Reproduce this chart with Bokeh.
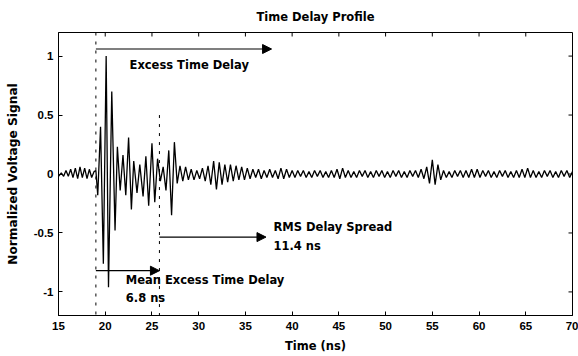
import math
from bokeh.plotting import figure
from bokeh.models import (Arrow, NormalHead, Label, FixedTicker,
                          CustomJSTickFormatter, Range1d)
from bokeh.embed import file_html
from bokeh.resources import INLINE

# ---- data ----
TIME_NS = [15.0, 15.3, 15.55, 15.8, 16.05, 16.3, 16.55, 16.8, 17.05, 17.3, 17.55, 17.8,
           18.05, 18.3, 18.55, 18.8, 19.0,
           19.2, 19.5, 19.8, 20.1, 20.35, 20.7, 21.05, 21.3, 21.6, 21.9, 22.2, 22.5,
           22.8, 23.05, 23.4, 23.7, 24.05, 24.35, 24.65, 25.0, 25.3, 25.6, 25.9, 26.2,
           26.5, 26.8, 27.1, 27.4, 27.7, 28.0, 28.3, 28.6,
           28.9, 29.2, 29.5, 29.8, 30.1, 30.4, 30.7, 31.0, 31.3, 31.6, 31.9, 32.2,
           32.5, 32.8, 33.1, 33.4, 33.7, 34.0, 34.3, 34.6, 34.9, 35.2, 35.5, 35.8,
           36.1, 36.4, 36.7, 37.0, 37.3, 37.6, 37.9, 38.2, 38.5, 38.8, 39.1, 39.4,
           39.7, 40.0, 40.3, 40.6, 40.9, 41.2, 41.5, 41.8, 42.1, 42.4, 42.7, 43.0,
           43.3, 43.6, 43.9, 44.2, 44.5, 44.8, 45.1, 45.4, 45.7, 46.0, 46.3, 46.6,
           46.9, 47.2, 47.5, 47.8, 48.1, 48.4, 48.7, 49.0, 49.3, 49.6, 49.9, 50.2,
           50.5, 50.8, 51.1, 51.4, 51.7, 52.0, 52.3, 52.6, 52.9, 53.2, 53.5, 53.8,
           54.1, 54.4, 54.7, 55.0, 55.3, 55.6, 55.9, 56.2, 56.5, 56.8, 57.1, 57.4,
           57.7, 58.0, 58.3, 58.6, 58.9, 59.2, 59.5, 59.8, 60.1, 60.4, 60.7, 61.0,
           61.3, 61.6, 61.9, 62.2, 62.5, 62.8, 63.1, 63.4, 63.7, 64.0, 64.3, 64.6,
           64.9, 65.2, 65.5, 65.8, 66.1, 66.4, 66.7, 67.0, 67.3, 67.6, 67.9, 68.2,
           68.5, 68.8, 69.1, 69.4, 69.7, 70.0]
VOLTAGE = [-0.02, 0.01, -0.02, 0.03, -0.02, 0.04, -0.03, 0.05, -0.04, 0.06, -0.03, 0.05,
           -0.04, 0.04, -0.03, 0.02, 0.03,
           -0.18, 0.40, -0.76, 1.00, -0.96, 0.70, -0.48, 0.23, -0.14, 0.16, -0.18, 0.31,
           -0.30, 0.11, -0.16, 0.08, -0.19, 0.15, -0.27, 0.26, -0.24, 0.13, -0.06, 0.06,
           -0.14, 0.20, -0.35, 0.27, -0.08, 0.07, -0.06, 0.06,
           -0.05, 0.04, -0.05, 0.03, -0.04, 0.05, -0.06, 0.07, -0.09, 0.11, -0.13, 0.10,
           -0.09, 0.08, -0.07, 0.08, -0.06, 0.07, -0.05, 0.06, -0.05, 0.05, -0.04, 0.04,
           -0.03, 0.04, -0.04, 0.03, -0.03, 0.04, -0.03, 0.03, -0.04, 0.05, -0.04, 0.04,
           -0.03, 0.03, -0.03, 0.03, -0.02, 0.03, -0.03, 0.02, -0.03, 0.03, -0.02, 0.03,
           -0.03, 0.02, -0.03, 0.03, -0.03, 0.04, -0.04, 0.05, -0.03, 0.03, -0.03, 0.02,
           -0.03, 0.03, -0.02, 0.03, -0.03, 0.02, -0.03, 0.03, -0.02, 0.03, -0.03, 0.02,
           -0.03, 0.03, -0.02, 0.03, -0.03, 0.02, -0.03, 0.03, -0.02, 0.03, -0.03, 0.04,
           -0.04, 0.06, -0.08, 0.12, -0.09, 0.08, -0.05, 0.03, -0.03, 0.02, -0.03, 0.03,
           -0.02, 0.03, -0.03, 0.03, -0.03, 0.04, -0.03, 0.04, -0.03, 0.03, -0.02, 0.03,
           -0.03, 0.02, -0.03, 0.03, -0.02, 0.03, -0.03, 0.02, -0.03, 0.03, -0.03, 0.04,
           -0.03, 0.05, -0.03, 0.03, -0.03, 0.02, -0.03, 0.03, -0.02, 0.03, -0.03, 0.02,
           -0.03, 0.03, -0.02, 0.03, -0.03, 0.02]

X_TICKS = [15, 20, 25, 30, 35, 40, 45, 50, 55, 60, 65, 70]
Y_TICKS = [-1, -0.5, 0, 0.5, 1]

FIRST_ARRIVAL_NS = 19.0
MEAN_EXCESS_DELAY_NS = 6.8
RMS_DELAY_SPREAD_NS = 11.4
EXCESS_DELAY_END_NS = 37.8

TITLE = "Time Delay Profile"
X_LABEL = "Time (ns)"
Y_LABEL = "Normalized Voltage Signal"

BOLD_FONT = "DejaVu Sans"
TICK_FONT = "Liberation Sans"

X_MIN, X_MAX = 15, 70
Y_MIN, Y_MAX = -1.2, 1.2

p = figure(width=578, height=356, output_backend="svg", toolbar_location=None,
           x_range=Range1d(X_MIN, X_MAX), y_range=Range1d(Y_MIN, Y_MAX),
           min_border_left=58, min_border_right=6, min_border_top=32, min_border_bottom=41,
           title=TITLE)
p.background_fill_color = "white"
p.border_fill_color = "white"
p.outline_line_color = "black"
p.outline_line_width = 1
p.grid.visible = False

p.title.align = "center"
p.title.vertical_align = "top"
p.title.standoff = 13
p.title.text_font = BOLD_FONT
p.title.text_font_style = "bold"
p.title.text_font_size = "11.5px"
p.title.text_color = "black"

tick_fmt = CustomJSTickFormatter(code="return tick.toString();")

for ax in (p.xaxis[0], p.yaxis[0]):
    ax.major_tick_in = 4
    ax.major_tick_out = 0
    ax.minor_tick_in = 0
    ax.minor_tick_out = 0
    ax.axis_line_color = "black"
    ax.major_tick_line_color = "black"
    ax.major_label_text_font = TICK_FONT
    ax.major_label_text_font_style = "bold"
    ax.major_label_text_font_size = "11.5px"
    ax.major_label_text_color = "black"
    ax.axis_label_text_font = BOLD_FONT
    ax.axis_label_text_font_style = "bold"
    ax.axis_label_text_font_size = "11.5px"
    ax.axis_label_text_color = "black"
    ax.formatter = tick_fmt

p.xaxis[0].ticker = FixedTicker(ticks=X_TICKS)
p.yaxis[0].ticker = FixedTicker(ticks=Y_TICKS)
p.xaxis[0].axis_label = X_LABEL
p.yaxis[0].axis_label = Y_LABEL
p.yaxis[0].axis_label_text_font_size = "12.2px"
p.xaxis[0].major_label_standoff = 6
p.xaxis[0].axis_label_standoff = 6
p.yaxis[0].major_label_standoff = 5
p.yaxis[0].axis_label_standoff = 11

# inward tick marks on the top and right edges of the box (no labels)
p.ray(x=X_TICKS, y=[Y_MAX] * len(X_TICKS), length=4, length_units="screen",
      angle=-math.pi / 2, line_color="black", line_width=1)
p.ray(x=[X_MAX] * len(Y_TICKS), y=Y_TICKS, length=4, length_units="screen",
      angle=math.pi, line_color="black", line_width=1)

# signal
p.line(TIME_NS, VOLTAGE, line_color="black", line_width=1.3)

mean_t = FIRST_ARRIVAL_NS + MEAN_EXCESS_DELAY_NS
rms_end = mean_t + RMS_DELAY_SPREAD_NS

# dashed markers
p.segment(x0=[FIRST_ARRIVAL_NS, mean_t], y0=[Y_MAX, 0.5], x1=[FIRST_ARRIVAL_NS, mean_t],
          y1=[Y_MIN, Y_MIN], line_color="black", line_width=1, line_dash="3 6")

def arrow(x0, x1, y):
    p.add_layout(Arrow(end=NormalHead(size=9, fill_color="black", line_color="black"),
                       x_start=x0, y_start=y, x_end=x1, y_end=y,
                       line_color="black", line_width=1.2))

arrow(FIRST_ARRIVAL_NS, EXCESS_DELAY_END_NS, 1.06)
arrow(mean_t, rms_end, -0.535)
arrow(FIRST_ARRIVAL_NS, mean_t, -0.82)

def label(x, y, text):
    p.add_layout(Label(x=x, y=y, text=text, text_font=BOLD_FONT, text_font_style="bold",
                       text_font_size="11.5px", text_baseline="middle", text_align="left",
                       text_color="black"))

label(22.6, 0.925, "Excess Time Delay")
label(38.0, -0.45, "RMS Delay Spread")
label(38.0, -0.61, "%.1f ns" % RMS_DELAY_SPREAD_NS)
label(22.2, -0.90, "Mean Excess Time Delay")
label(22.2, -1.05, "%.1f ns" % MEAN_EXCESS_DELAY_NS)

open("out.html", "w").write(file_html(p, INLINE))
